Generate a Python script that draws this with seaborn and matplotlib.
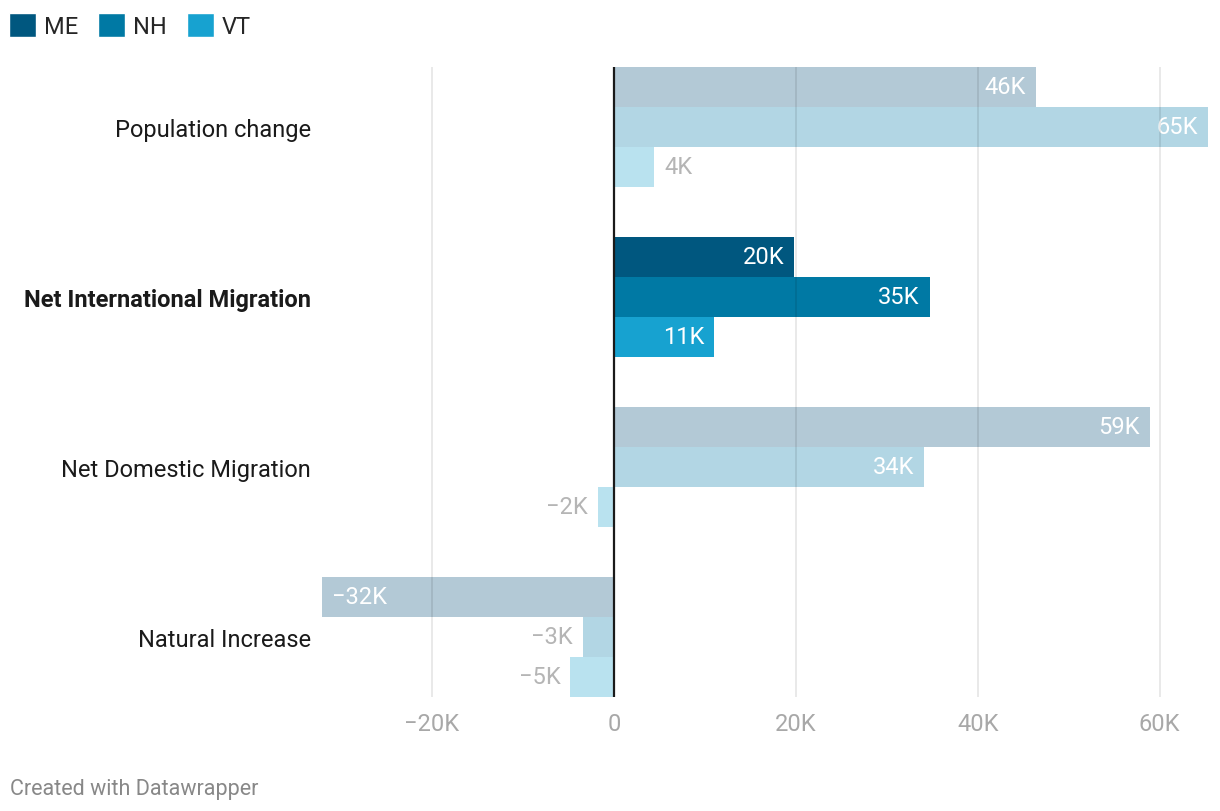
import pandas as pd
import seaborn as sns
import matplotlib.pyplot as plt
from matplotlib.patches import Patch

# Data (thousands of people)
categories = ["Population change", "Net International Migration",
              "Net Domestic Migration", "Natural Increase"]
states = ["ME", "NH", "VT"]
me_vals = [46.4, 19.8, 58.9, -32.1]
nh_vals = [65.3, 34.7, 34.1, -3.4]
vt_vals = [4.4, 11.0, -1.8, -4.8]
highlight = "Net International Migration"

colors = {"ME": "#00577f", "NH": "#0079a4", "VT": "#17a2d0"}
faded = {"ME": "#b3c9d6", "NH": "#b2d6e4", "VT": "#b9e2ef"}

df = pd.DataFrame({
    "Category": categories * 3,
    "State": ["ME"] * 4 + ["NH"] * 4 + ["VT"] * 4,
    "Value": me_vals + nh_vals + vt_vals,
})

sns.set_style("white")
plt.rcParams["font.family"] = ["Roboto", "DejaVu Sans"]
FS = 17

fig = plt.figure(figsize=(12.2, 8.12), dpi=100)
ax = fig.add_axes([0.2639, 0.1404, 0.7262, 0.7759])

sns.barplot(data=df, y="Category", x="Value", hue="State", order=categories,
            hue_order=states, orient="h", width=0.706, ax=ax, legend=False,
            palette=colors, saturation=1, linewidth=0)

#Recolour faded rows and add value labels
for state, container in zip(states, ax.containers):
    for cat, bar in zip(categories, container):
        val = bar.get_width()
        is_hl = cat == highlight
        bar.set_facecolor(colors[state] if is_hl else faded[state])
        yc = bar.get_y() + bar.get_height() / 2
        txt = f"\u2212{abs(val):.0f}K" if val < 0 else f"{val:.0f}K"
        if abs(val) > 6:
            ha = "right" if val > 0 else "left"
            off = -1.1 if val > 0 else 1.1
            ax.text(val + off, yc, txt, ha=ha, va="center", color="white", fontsize=FS)
        else:
            ha = "left" if val > 0 else "right"
            off = 1.1 if val > 0 else -1.1
            ax.text(val + off, yc, txt, ha=ha, va="center", color="#b5b5b5", fontsize=FS)

ax.set_xlim(-32.1, 65.3)
ax.set_ylim(3.353, -0.353)
ax.set_xticks([-20, 0, 20, 40, 60])
ax.set_xticklabels(["\u221220K", "0", "20K", "40K", "60K"])
for x in [-20, 20, 40, 60]:
    ax.axvline(x, color="black", alpha=0.1, lw=1.2, zorder=5)
ax.axvline(0, color="#1a1a1a", lw=1.6, zorder=6)

ax.set_xlabel("")
ax.set_ylabel("")
for s in ax.spines.values():
    s.set_visible(False)
ax.tick_params(axis="x", length=0, pad=11, labelsize=FS, labelcolor="#a8a8a8")
ax.tick_params(axis="y", length=0, pad=8, labelsize=FS, labelcolor="#1a1a1a")
for lbl in ax.get_yticklabels():
    if lbl.get_text() == highlight:
        lbl.set_fontweight("bold")

handles = [Patch(facecolor=colors[s], label=s) for s in states]
fig.legend(handles=handles, loc="upper left", bbox_to_anchor=(0.0, 0.994), ncol=3,
           frameon=False, fontsize=FS, handlelength=1.14, handleheight=1.14,
           handletextpad=0.33, columnspacing=0.85, borderaxespad=0)

fig.text(0.008, 0.028, "Created with Datawrapper", fontsize=15.5, color="#888888",
         va="center")

plt.savefig("out.png", dpi=100)
